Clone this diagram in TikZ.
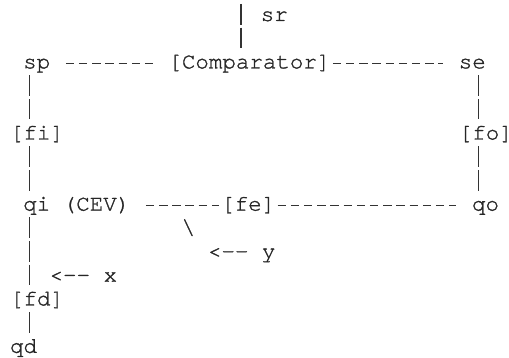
\documentclass[tikz,border=0pt]{standalone}
\usepackage{fontspec}
\newfontfamily\monofam[Ligatures=NoCommon, FakeBold=1.2]{TeX Gyre Cursor}
\begin{document}
\begin{tikzpicture}[x=13.2pt, y=-23.7pt,
  txt/.style={anchor=base west, yshift=-5pt, inner sep=0pt, outer sep=0pt,
    text height=20pt, text depth=6.7pt,
    font=\monofam\fontsize{22.5}{22.5}\selectfont, text=black!85},
  hline/.style={draw=black!80, line width=1.2pt, dash pattern=on 8.5pt off 4.7pt},
  vline/.style={draw=black!80, line width=1.2pt, dash pattern=on 20.7pt off 3pt}]
\useasboundingbox (-0.7576,-0.6751) rectangle (37.803,14.4304);

% nodes (column, row)
\coordinate (srtop) at (17.5,-0.5063);
\node[txt] (sr)  at (19,0)  {sr};
\node[txt] (sp)  at (1,2)   {sp};
\node[txt] (cmp) at (12,2)  {[Comparator]};
\node[txt] (se)  at (34,2)  {se};
\node[txt] (fi)  at (0,5)   {[fi]};
\node[txt] (fo)  at (34,5)  {[fo]};
\node[txt] (qi)  at (1,8)   {qi};
\node[txt] (cev) at (4,8)   {(CEV)};
\node[txt] (fe)  at (16,8)  {[fe]};
\node[txt] (qo)  at (35,8)  {qo};
\node[txt] (bs)  at (13,9)  {\textbackslash};
\node[txt] (ly)  at (15,10) {{<}{-}{-} y};
\node[txt] (lx)  at (3,11)  {{<}{-}{-} x};
\node[txt] (fd)  at (0,12)  {[fd]};
\node[txt] (qd)  at (0,14)  {qd};

% horizontal connectors
\draw[hline, shorten <=15.55pt, shorten >=15.55pt]
  ([yshift=5pt]sp.base east) -- ([yshift=5pt]cmp.base west);
\draw[hline, shorten <=2.35pt, shorten >=15.55pt]
  ([yshift=5pt]cmp.base east) -- ([yshift=5pt]se.base west);
\draw[hline, shorten <=15.55pt, shorten >=2.35pt]
  ([yshift=5pt]cev.base east) -- ([yshift=5pt]fe.base west);
\draw[hline, shorten <=2.35pt, shorten >=15.55pt]
  ([yshift=5pt]fe.base east) -- ([yshift=5pt]qo.base west);

% vertical connectors
\draw[vline] (srtop) -- (srtop |- cmp.north);
\draw[vline] ([xshift=6.6pt]sp.south west) -- ([xshift=19.8pt]fi.north west);
\draw[vline] ([xshift=19.8pt]se.south west) -- ([xshift=19.8pt]fo.north west);
\draw[vline] ([xshift=19.8pt]fi.south west) -- ([xshift=6.6pt]qi.north west);
\draw[vline] ([xshift=19.8pt]fo.south west) -- ([xshift=6.6pt]qo.north west);
\draw[vline] ([xshift=6.6pt]qi.south west) -- ([xshift=19.8pt]fd.north west);
\draw[vline] ([xshift=19.8pt]fd.south west) -- ([xshift=19.8pt]qd.north west);
\end{tikzpicture}
\end{document}
